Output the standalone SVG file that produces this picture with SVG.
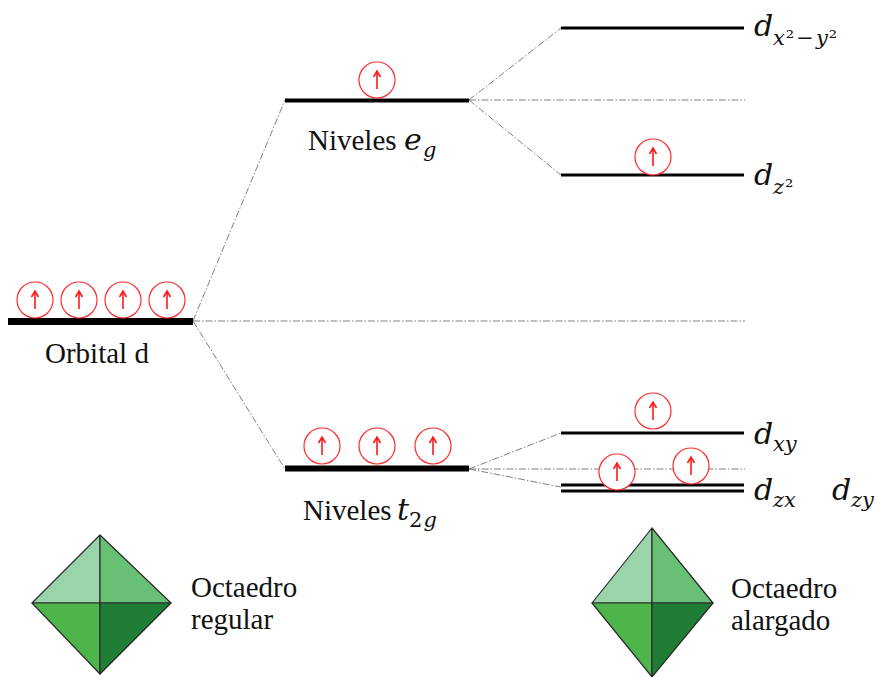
<svg xmlns="http://www.w3.org/2000/svg" width="877" height="677" viewBox="0 0 877 677">
  <defs>
    <style>
      .lvl { stroke: #000; stroke-linecap: butt; }
      .guide { stroke: #808080; stroke-width: 1; fill: none; stroke-dasharray: 7 2 1.5 2; }
      .e { fill: #fff; stroke: #ff2a2a; stroke-width: 1.2; }
      .arr { fill: none; stroke: #ff1a1a; stroke-width: 1.6; }
      .lbl { font-family: "Liberation Serif", Tinos, "Times New Roman", Times, "Noto Serif", "DejaVu Serif", FreeSerif, serif; font-size: 29px; fill: #111; }
      .md, .ms { font-family: "DejaVu Serif", "Noto Serif", "Liberation Serif", Tinos, serif; font-style: italic; fill: #111; }
      .md { font-size: 30px; }
      .ms { font-size: 21px; }
      .oct { stroke: #2a2a2a; stroke-width: 1.2; stroke-linejoin: round; }
    </style>
    <g id="electron">
      <circle class="e" cx="0" cy="0" r="18"/>
      <path class="arr" d="M0,9 V-8 M-3.5,-3 L0,-9 L3.5,-3"/>
    </g>
  </defs>

  <rect width="877" height="677" fill="#fff"/>

  <!-- dash-dot connectors between levels -->
  <g id="connectors">
    <line class="guide" x1="193" y1="321" x2="285" y2="100"/>
    <line class="guide" x1="193" y1="321" x2="745" y2="321"/>
    <line class="guide" x1="193" y1="321" x2="285" y2="469"/>
    <line class="guide" x1="469" y1="100" x2="561" y2="28"/>
    <line class="guide" x1="469" y1="100" x2="745" y2="100"/>
    <line class="guide" x1="469" y1="100" x2="561" y2="175"/>
    <line class="guide" x1="469" y1="469" x2="561" y2="433"/>
    <line class="guide" x1="469" y1="469" x2="745" y2="469"/>
    <line class="guide" x1="469" y1="469" x2="561" y2="487"/>
  </g>

  <!-- free-ion d level -->
  <g id="orbital-d">
    <line class="lvl" x1="8" y1="321.5" x2="193" y2="321.5" stroke-width="7"/>
    <use href="#electron" x="35" y="300"/>
    <use href="#electron" x="79" y="300"/>
    <use href="#electron" x="123" y="300"/>
    <use href="#electron" x="167" y="300"/>
    <text class="lbl" x="45" y="363">Orbital d</text>
  </g>

  <!-- e_g set -->
  <g id="eg">
    <line class="lvl" x1="285" y1="100.5" x2="469" y2="100.5" stroke-width="4"/>
    <use href="#electron" x="377" y="80"/>
    <text class="lbl" x="308" y="150">Niveles</text>
    <text class="md" x="404" y="150">e</text>
    <text class="ms" x="423" y="157">g</text>
  </g>

  <!-- t_2g set -->
  <g id="t2g">
    <line class="lvl" x1="285" y1="468.5" x2="469" y2="468.5" stroke-width="6"/>
    <use href="#electron" x="322" y="446"/>
    <use href="#electron" x="377" y="446"/>
    <use href="#electron" x="433" y="446"/>
    <text class="lbl" x="303" y="520">Niveles</text>
    <text class="md" x="397" y="520">t</text>
    <text class="ms" x="409" y="527"><tspan font-style="normal">2</tspan><tspan dx="1">g</tspan></text>
  </g>

  <!-- d(x2-y2) -->
  <g id="dx2y2">
    <line class="lvl" x1="561" y1="28" x2="744" y2="28" stroke-width="3"/>
    <text class="md" x="754" y="36">d</text>
    <text class="ms" x="773" y="45">x<tspan font-style="normal" dx="1">²</tspan><tspan font-style="normal" dx="2">−</tspan><tspan dx="2">y</tspan><tspan font-style="normal" dx="1">²</tspan></text>
  </g>

  <!-- d(z2) -->
  <g id="dz2">
    <line class="lvl" x1="561" y1="175" x2="744" y2="175" stroke-width="3"/>
    <use href="#electron" x="653" y="157"/>
    <text class="md" x="754" y="185">d</text>
    <text class="ms" x="773" y="194">z<tspan font-style="normal" dx="1">²</tspan></text>
  </g>

  <!-- d(xy) -->
  <g id="dxy">
    <line class="lvl" x1="561" y1="433" x2="744" y2="433" stroke-width="3"/>
    <use href="#electron" x="653" y="411"/>
    <text class="md" x="754" y="444">d</text>
    <text class="ms" x="773" y="451">xy</text>
  </g>

  <!-- d(zx), d(zy) degenerate pair -->
  <g id="dzx-dzy">
    <line class="lvl" x1="561" y1="485" x2="744" y2="485" stroke-width="3"/>
    <line class="lvl" x1="561" y1="491" x2="744" y2="491" stroke-width="3"/>
    <use href="#electron" x="617" y="472"/>
    <use href="#electron" x="691" y="466"/>
    <text class="md" x="754" y="500">d</text>
    <text class="ms" x="773" y="507">zx</text>
    <text class="md" x="832" y="500">d</text>
    <text class="ms" x="851" y="507">zy</text>
  </g>

  <!-- regular octahedron -->
  <g id="octa-regular">
    <polygon class="oct" points="100,535 32,603 100,603" fill="#9ad4ab"/>
    <polygon class="oct" points="100,535 171,603 100,603" fill="#67c074"/>
    <polygon class="oct" points="32,603 100,674 100,603" fill="#4db54a"/>
    <polygon class="oct" points="171,603 100,674 100,603" fill="#1f7d36"/>
    <text class="lbl" x="191" y="597">Octaedro</text>
    <text class="lbl" x="191" y="629">regular</text>
  </g>

  <!-- elongated octahedron -->
  <g id="octa-elongated">
    <polygon class="oct" points="652,528 592,603 652,603" fill="#9ad4ab"/>
    <polygon class="oct" points="652,528 713,603 652,603" fill="#67c074"/>
    <polygon class="oct" points="592,603 652,677 652,603" fill="#4db54a"/>
    <polygon class="oct" points="713,603 652,677 652,603" fill="#1f7d36"/>
    <text class="lbl" x="731" y="598">Octaedro</text>
    <text class="lbl" x="731" y="630">alargado</text>
  </g>
</svg>
